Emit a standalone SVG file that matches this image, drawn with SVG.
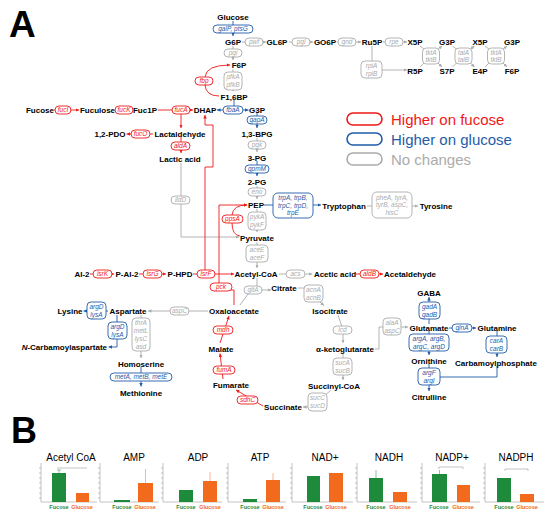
<svg xmlns="http://www.w3.org/2000/svg" width="550" height="518" viewBox="0 0 550 518">
<defs>
<style>
.m{font:bold 8px "Liberation Sans",Arial,sans-serif;text-anchor:middle;fill:#000}
.gt{font:italic 6.5px "Liberation Sans",Arial,sans-serif;text-anchor:middle}
.r rect{fill:#fff;stroke:#f01818;stroke-width:0.9}.r text{fill:#f01818}
.b rect{fill:#fff;stroke:#1f5ca8;stroke-width:0.9}.b text{fill:#1f5ca8}
.n rect{fill:#fff;stroke:#ababab;stroke-width:0.9}.n text{fill:#ababab}
.cr path{fill:none;stroke:#f01818;stroke-width:0.9}
.cb path{fill:none;stroke:#1f5ca8;stroke-width:0.9}
.cg path{fill:none;stroke:#ababab;stroke-width:0.9}
.cr .a{marker-end:url(#ar)}.cb .a{marker-end:url(#ab)}.cg .a{marker-end:url(#ag)}
.leg{font:15px "Liberation Sans",Arial,sans-serif}
.ct{font:10px "Liberation Sans",Arial,sans-serif;text-anchor:middle}
.ax{stroke:#9a9a9a;stroke-width:0.6;fill:none}
.gf{fill:#1e8a3c}.of{fill:#f26a1b}
.lf{font:bold 5.5px "Liberation Sans",Arial,sans-serif;text-anchor:middle}
</style>
<marker id="ar" viewBox="0 0 4 4" refX="4" refY="2" markerWidth="3.5" markerHeight="3.5" orient="auto" markerUnits="userSpaceOnUse"><path d="M0,0L4,2L0,4z" fill="#f01818"/></marker>
<marker id="ab" viewBox="0 0 4 4" refX="4" refY="2" markerWidth="3.5" markerHeight="3.5" orient="auto" markerUnits="userSpaceOnUse"><path d="M0,0L4,2L0,4z" fill="#1f5ca8"/></marker>
<marker id="ag" viewBox="0 0 4 4" refX="4" refY="2" markerWidth="3.5" markerHeight="3.5" orient="auto" markerUnits="userSpaceOnUse"><path d="M0,0L4,2L0,4z" fill="#ababab"/></marker>
</defs>
<rect width="550" height="518" fill="#fff"/>
<text x="9" y="37" style="font:bold 37px 'Liberation Sans',Arial,sans-serif">A</text>
<text x="11" y="443" style="font:bold 36px 'Liberation Sans',Arial,sans-serif">B</text>

<g id="connectors">
<g class="cg">
<path class="a" d="M242,42H266"/><path class="a" d="M289,42H313"/><path class="a" d="M337,42H361"/><path class="a" d="M383,42H407"/>
<path d="M372,46V61"/><path class="a" d="M382,70H407"/>
<path class="a" d="M233,46V60"/><path class="a" d="M233,69V91"/>
<path class="a" d="M257,138V152"/><path class="a" d="M257,186V199"/><path class="a" d="M257,209V232"/><path class="a" d="M257,242V268"/>
<path class="a" d="M181,163V237H239"/>
<path class="a" d="M367,206H418"/>
<path class="a" d="M279,274H312"/>
<path d="M257,278V287"/><path d="M240,305L248,294"/><path class="a" d="M262,290H271"/>
<path d="M298,288H305"/><path class="a" d="M320,302L324,305.5"/>
<path d="M338,315L342,327"/><path class="a" d="M343,334V343"/>
<path class="a" d="M343,353V380"/>
<path d="M331,390L322,398"/><path class="a" d="M309,407H303"/>
<path class="a" d="M208,311H148"/>
<path class="a" d="M141,315V358"/>
<path class="a" d="M375,349H379V327H408"/>
<path d="M420,46L425,50"/><path class="a" d="M437,50L442,46"/><path d="M420,67L425,62"/><path class="a" d="M437,62L442,67"/>
<path d="M452.5,46L457.5,50"/><path class="a" d="M469.5,50L474.5,46"/><path d="M452.5,67L457.5,62"/><path class="a" d="M469.5,62L474.5,67"/>
<path d="M485,46L490,50"/><path class="a" d="M502,50L507,46"/><path d="M485,67L490,62"/><path class="a" d="M502,62L507,67"/>
</g>
<g class="cb">
<path class="a" d="M233,21V36"/>
<path d="M234,100V106"/><path class="a" d="M223,110H217"/><path class="a" d="M243,110H248.5"/>
<path class="a" d="M257,113V128"/><path class="a" d="M257,161V176"/>
<path d="M264,205H273"/><path class="a" d="M313,205H321"/>
<path class="a" d="M108,311H83.5"/><path class="a" d="M117,315V347H108.5"/>
<path class="a" d="M141,367V386.5"/>
<path class="a" d="M429,324V297"/><path class="a" d="M449,328H476"/>
<path class="a" d="M429,331V355"/><path class="a" d="M429,364V391"/>
<path class="a" d="M497,331V357"/><path d="M497,366V377H440"/>
</g>
<g class="cr">
<path class="a" d="M54,110H79"/><path class="a" d="M116,110H132"/><path class="a" d="M158,110H193"/>
<path class="a" d="M181,114V128"/><path class="a" d="M153,134H126.5"/><path class="a" d="M181,137V153"/>
<path class="a" d="M205,270V167H213V125H205V115"/>
<path class="a" d="M90,274H114"/><path class="a" d="M139,274H166"/><path class="a" d="M193,274H234"/>
<path class="a" d="M234,305V290H219V205H247"/>
<path d="M240,236Q232,235 232,223"/><path class="a" d="M232,215Q233,205 247,205"/>
<path d="M219,96Q206,96 205,85"/><path class="a" d="M205,77Q206,65 230,65"/>
<path class="a" d="M220,343L229,316"/><path class="a" d="M223,379L220,353.5"/><path class="a" d="M263,406L236,390"/>
<path class="a" d="M356,274H383"/>
</g>
</g>

<g id="metabolites" class="m">
<g id="m-glucose"><text class="m" x="233" y="20">Glucose</text></g>
<g id="m-g6p"><text class="m" x="233" y="45">G6P</text></g>
<g id="m-gl6p"><text class="m" x="277" y="45">GL6P</text></g>
<g id="m-go6p"><text class="m" x="325" y="45">GO6P</text></g>
<g id="m-ru5p"><text class="m" x="372" y="45">Ru5P</text></g>
<g id="m-x5p1"><text class="m" x="415" y="45">X5P</text></g>
<g id="m-g3p1"><text class="m" x="447" y="45">G3P</text></g>
<g id="m-x5p2"><text class="m" x="480" y="45">X5P</text></g>
<g id="m-g3p2"><text class="m" x="512" y="45">G3P</text></g>
<g id="m-r5p"><text class="m" x="415" y="74">R5P</text></g>
<g id="m-s7p"><text class="m" x="447" y="74">S7P</text></g>
<g id="m-e4p"><text class="m" x="480" y="74">E4P</text></g>
<g id="m-f6p2"><text class="m" x="512" y="74">F6P</text></g>
<g id="m-f6p"><text class="m" x="239" y="68">F6P</text></g>
<g id="m-f16bp"><text class="m" x="234" y="100">F1,6BP</text></g>
<g id="m-dhap"><text class="m" x="205" y="113">DHAP</text></g>
<g id="m-g3p"><text class="m" x="257" y="113">G3P</text></g>
<g id="m-fucose"><text class="m" x="40" y="113">Fucose</text></g>
<g id="m-fuculose"><text class="m" x="97.5" y="113">Fuculose</text></g>
<g id="m-fuc1p"><text class="m" x="145" y="113">Fuc1P</text></g>
<g id="m-pdo"><text class="m" x="110" y="137">1,2-PDO</text></g>
<g id="m-lactald"><text class="m" x="180" y="137">Lactaldehyde</text></g>
<g id="m-lactic"><text class="m" x="180" y="162">Lactic acid</text></g>
<g id="m-13bpg"><text class="m" x="257" y="137">1,3-BPG</text></g>
<g id="m-3pg"><text class="m" x="257" y="161">3-PG</text></g>
<g id="m-2pg"><text class="m" x="257" y="185">2-PG</text></g>
<g id="m-pep"><text class="m" x="256" y="208">PEP</text></g>
<g id="m-pyr"><text class="m" x="257" y="241">Pyruvate</text></g>
<g id="m-trp"><text class="m" x="344" y="209">Tryptophan</text></g>
<g id="m-tyr"><text class="m" x="436" y="209">Tyrosine</text></g>
<g id="m-ai2"><text class="m" x="82" y="277">AI-2</text></g>
<g id="m-pai2"><text class="m" x="127" y="277">P-AI-2</text></g>
<g id="m-phpd"><text class="m" x="180" y="277">P-HPD</text></g>
<g id="m-accoa"><text class="m" x="256" y="277">Acetyl-CoA</text></g>
<g id="m-acetic"><text class="m" x="335" y="277">Acetic acid</text></g>
<g id="m-acetald"><text class="m" x="410" y="277">Acetaldehyde</text></g>
<g id="m-citrate"><text class="m" x="284" y="291">Citrate</text></g>
<g id="m-oaa"><text class="m" x="234" y="314">Oxaloacetate</text></g>
<g id="m-isocit"><text class="m" x="330" y="314">Isocitrate</text></g>
<g id="m-lysine"><text class="m" x="70" y="314">Lysine</text></g>
<g id="m-asp"><text class="m" x="128" y="314">Aspartate</text></g>
<g id="m-ncarb"><text class="m" x="107" y="350" style="text-anchor:end"><tspan font-style="italic">N</tspan>-Carbamoylaspartate</text></g>
<g id="m-homoser"><text class="m" x="141" y="367">Homoserine</text></g>
<g id="m-met"><text class="m" x="141" y="396">Methionine</text></g>
<g id="m-malate"><text class="m" x="221" y="352">Malate</text></g>
<g id="m-fumarate"><text class="m" x="231" y="388">Fumarate</text></g>
<g id="m-succinate"><text class="m" x="283" y="410">Succinate</text></g>
<g id="m-succoa"><text class="m" x="334" y="389">Succinyl-CoA</text></g>
<g id="m-akg"><text class="m" x="345" y="352">α-ketoglutarate</text></g>
<g id="m-gaba"><text class="m" x="429" y="296">GABA</text></g>
<g id="m-glu"><text class="m" x="429" y="331">Glutamate</text></g>
<g id="m-gln"><text class="m" x="497" y="331">Glutamine</text></g>
<g id="m-orn"><text class="m" x="429" y="364">Ornithine</text></g>
<g id="m-carbp"><text class="m" x="496" y="366">Carbamoylphosphate</text></g>
<g id="m-cit"><text class="m" x="429" y="400">Citrulline</text></g>
</g>

<g id="genes">
<g id="e-galp" class="b"><rect x="213" y="25" width="40" height="8" rx="4"/><text class="gt" x="233" y="31.3">galP, ptsG</text></g>
<g id="e-pwf" class="n"><rect x="245" y="38" width="18" height="8" rx="4"/><text class="gt" x="254" y="44.3">pwf</text></g>
<g id="e-pgl" class="n"><rect x="292" y="38" width="18" height="8" rx="4"/><text class="gt" x="301" y="44.3">pgl</text></g>
<g id="e-gnd" class="n"><rect x="338" y="38" width="18" height="8" rx="4"/><text class="gt" x="347" y="44.3">gnd</text></g>
<g id="e-rpe" class="n"><rect x="385" y="38" width="18" height="8" rx="4"/><text class="gt" x="394" y="44.3">rpe</text></g>
<g id="e-pgi" class="n"><rect x="224" y="49" width="18" height="8" rx="4"/><text class="gt" x="233" y="55.3">pgi</text></g>
<g id="e-pfk" class="n"><rect x="224" y="72" width="18" height="18" rx="4"/><text class="gt" x="233" y="79">pfkA</text><text class="gt" x="233" y="87">pfkB</text></g>
<g id="e-fbp" class="r"><rect x="195" y="77" width="18" height="8" rx="4"/><text class="gt" x="204" y="83.3">fbp</text></g>
<g id="e-fbaa" class="b"><rect x="223" y="106" width="20" height="8" rx="4"/><text class="gt" x="233" y="112.3">fbaA</text></g>
<g id="e-gapa" class="b"><rect x="247" y="116" width="20" height="8" rx="4"/><text class="gt" x="257" y="122.3">gapA</text></g>
<g id="e-pgk" class="n"><rect x="248" y="141" width="18" height="8" rx="4"/><text class="gt" x="257" y="147.3">pgk</text></g>
<g id="e-gpmm" class="b"><rect x="245" y="165" width="24" height="8" rx="4"/><text class="gt" x="257" y="171.3">gpmM</text></g>
<g id="e-eno" class="n"><rect x="248" y="188" width="18" height="8" rx="4"/><text class="gt" x="257" y="194.3">eno</text></g>
<g id="e-pyk" class="n"><rect x="248" y="212" width="18" height="18" rx="4"/><text class="gt" x="257" y="219">pykA</text><text class="gt" x="257" y="227">pykF</text></g>
<g id="e-ace" class="n"><rect x="246" y="245" width="22" height="17" rx="4"/><text class="gt" x="257" y="251.8">aceE</text><text class="gt" x="257" y="259.6">aceF</text></g>
<g id="e-trp" class="b"><rect x="273" y="193" width="40" height="25" rx="5"/><text class="gt" x="293" y="200.3">trpA, trpB,</text><text class="gt" x="293" y="207.8">trpC, trpD,</text><text class="gt" x="293" y="215.3">trpE</text></g>
<g id="e-phea" class="n"><rect x="372" y="192" width="40" height="26" rx="5"/><text class="gt" x="392" y="199.5">pheA, tyrA,</text><text class="gt" x="392" y="207.3">tyrB, aspC,</text><text class="gt" x="392" y="215">hisC</text></g>
<g id="e-rpi" class="n"><rect x="361" y="61" width="21" height="17" rx="4"/><text class="gt" x="371.5" y="67.8">rpiA</text><text class="gt" x="371.5" y="75.6">rpiB</text></g>
<g id="e-tkt1" class="n"><rect x="422.5" y="48" width="17" height="16" rx="4"/><text class="gt" x="431" y="54.5">tktA</text><text class="gt" x="431" y="62">tktB</text></g>
<g id="e-tal" class="n"><rect x="455" y="48" width="17" height="16" rx="4"/><text class="gt" x="463.5" y="54.5">talA</text><text class="gt" x="463.5" y="62">talB</text></g>
<g id="e-tkt2" class="n"><rect x="487.5" y="48" width="17" height="16" rx="4"/><text class="gt" x="496" y="54.5">tktA</text><text class="gt" x="496" y="62">tktB</text></g>
<g id="e-fuci" class="r"><rect x="55" y="106" width="16" height="8" rx="4"/><text class="gt" x="63" y="112.3">fucI</text></g>
<g id="e-fuck" class="r"><rect x="115" y="106" width="18" height="8" rx="4"/><text class="gt" x="124" y="112.3">fucK</text></g>
<g id="e-fuca" class="r"><rect x="172" y="106" width="18" height="8" rx="4"/><text class="gt" x="181" y="112.3">fucA</text></g>
<g id="e-fuco" class="r"><rect x="131" y="130" width="19" height="8" rx="4"/><text class="gt" x="140.5" y="136.3">fucO</text></g>
<g id="e-alda" class="r"><rect x="171" y="142" width="19" height="8" rx="4"/><text class="gt" x="180.5" y="148.3">aldA</text></g>
<g id="e-lldd" class="n"><rect x="171" y="196" width="19" height="8" rx="4"/><text class="gt" x="180.5" y="202.3">lldD</text></g>
<g id="e-ppsa" class="r"><rect x="222" y="215" width="21" height="8" rx="4"/><text class="gt" x="232.5" y="221.3">ppsA</text></g>
<g id="e-lsrk" class="r"><rect x="93" y="270" width="19" height="8" rx="4"/><text class="gt" x="102.5" y="276.3">lsrK</text></g>
<g id="e-lsrg" class="r"><rect x="143" y="270" width="19" height="8" rx="4"/><text class="gt" x="152.5" y="276.3">lsrG</text></g>
<g id="e-lsrf" class="r"><rect x="197" y="270" width="18" height="8" rx="4"/><text class="gt" x="206" y="276.3">lsrF</text></g>
<g id="e-acs" class="n"><rect x="286" y="270" width="19" height="8" rx="4"/><text class="gt" x="295.5" y="276.3">acs</text></g>
<g id="e-aldb" class="r"><rect x="360" y="270" width="19" height="8" rx="4"/><text class="gt" x="369.5" y="276.3">aldB</text></g>
<g id="e-pck" class="r"><rect x="210" y="283" width="22" height="8" rx="4"/><text class="gt" x="221" y="289.3">pck</text></g>
<g id="e-glta" class="n"><rect x="244" y="286" width="18" height="8" rx="4"/><text class="gt" x="253" y="292.3">gltA</text></g>
<g id="e-acn" class="n"><rect x="304" y="285" width="19" height="17" rx="4"/><text class="gt" x="313.5" y="291.8">acnA</text><text class="gt" x="313.5" y="299.6">acnB</text></g>
<g id="e-aspc" class="n"><rect x="170" y="307" width="19" height="8" rx="4"/><text class="gt" x="179.5" y="313.3">aspC</text></g>
<g id="e-argd1" class="b"><rect x="87" y="302" width="19" height="17" rx="4"/><text class="gt" x="96.5" y="308.8">argD</text><text class="gt" x="96.5" y="316.6">lysA</text></g>
<g id="e-argd2" class="b"><rect x="108" y="322" width="19" height="17" rx="4"/><text class="gt" x="117.5" y="328.8">argD</text><text class="gt" x="117.5" y="336.6">lysA</text></g>
<g id="e-thra" class="n"><rect x="132" y="318" width="18" height="33" rx="4"/><text class="gt" x="141" y="324.8">thrA</text><text class="gt" x="141" y="332.8">metL</text><text class="gt" x="141" y="340.8">lysC</text><text class="gt" x="141" y="348.8">asd</text></g>
<g id="e-meta" class="b"><rect x="110" y="373" width="62" height="8" rx="4"/><text class="gt" x="141" y="379.3">metA, metB, metE</text></g>
<g id="e-mdh" class="r"><rect x="213" y="326" width="20" height="8" rx="4"/><text class="gt" x="223" y="332.3">mdh</text></g>
<g id="e-fuma" class="r"><rect x="213" y="366" width="22" height="8" rx="4"/><text class="gt" x="224" y="372.3">fumA</text></g>
<g id="e-sdhc" class="r"><rect x="237" y="396" width="21" height="8" rx="4"/><text class="gt" x="247.5" y="402.3">sdhC</text></g>
<g id="e-icd" class="n"><rect x="333" y="326" width="19" height="8" rx="4"/><text class="gt" x="342.5" y="332.3">icd</text></g>
<g id="e-suca" class="n"><rect x="333" y="358" width="19" height="17" rx="4"/><text class="gt" x="342.5" y="364.8">sucA</text><text class="gt" x="342.5" y="372.6">sucB</text></g>
<g id="e-succ" class="n"><rect x="308" y="393" width="19" height="18" rx="4"/><text class="gt" x="317.5" y="400">sucC</text><text class="gt" x="317.5" y="408">sucD</text></g>
<g id="e-alaa" class="n"><rect x="383" y="318" width="18" height="17" rx="4"/><text class="gt" x="392" y="324.8">alaA</text><text class="gt" x="392" y="332.6">aspC</text></g>
<g id="e-gad" class="b"><rect x="419" y="302" width="21" height="17" rx="4"/><text class="gt" x="429.5" y="308.8">gadA</text><text class="gt" x="429.5" y="316.6">gadB</text></g>
<g id="e-glna" class="b"><rect x="452" y="324" width="20" height="8" rx="4"/><text class="gt" x="462" y="330.3">glnA</text></g>
<g id="e-arga" class="b"><rect x="409" y="334" width="40" height="17" rx="4"/><text class="gt" x="429" y="340.8">argA, argB,</text><text class="gt" x="429" y="348.6">argC, argD</text></g>
<g id="e-car" class="b"><rect x="486" y="336" width="21" height="17" rx="4"/><text class="gt" x="496.5" y="342.8">carA</text><text class="gt" x="496.5" y="350.6">carB</text></g>
<g id="e-argf" class="b"><rect x="418" y="368" width="22" height="17" rx="4"/><text class="gt" x="429" y="374.8">argF</text><text class="gt" x="429" y="382.6">argI</text></g>
</g>

<g id="legend">
<rect x="347" y="113" width="35" height="12" rx="6" fill="none" stroke="#f01818" stroke-width="1.6"/>
<text class="leg" x="391" y="124.5" fill="#f01818">Higher on fucose</text>
<rect x="347" y="133" width="35" height="12" rx="6" fill="none" stroke="#1f5ca8" stroke-width="1.6"/>
<text class="leg" x="391" y="144.5" fill="#1f5ca8">Higher on glucose</text>
<rect x="347" y="153" width="35" height="12" rx="6" fill="none" stroke="#ababab" stroke-width="1.6"/>
<text class="leg" x="391" y="164.5" fill="#ababab">No changes</text>
</g>

<g id="charts">
<g id="c-accoa"><text class="ct" x="71" y="461">Acetyl CoA</text><path class="ax" d="M41,463V502H97M41,468h-2M41,473h-2M41,478h-2M41,483h-2M41,488h-2M41,493h-2M41,498h-2"/><rect class="gf" x="52" y="473" width="14" height="29"/><rect class="of" x="76" y="493" width="13" height="9"/><path d="M59,473V470M57,470h4" stroke="#1e8a3c" stroke-width="0.5"/><path class="ax" d="M57,468H87"/><text class="lf" x="59" y="509" fill="#1e8a3c">Fucose</text><text class="lf" x="82" y="509" fill="#f26a1b">Glucose</text></g>
<g id="c-amp"><text class="ct" x="134" y="461">AMP</text><path class="ax" d="M100,463V502H159M100,468h-2M100,473h-2M100,478h-2M100,483h-2M100,488h-2M100,493h-2M100,498h-2"/><rect class="gf" x="114" y="500" width="16" height="2"/><rect class="of" x="138" y="483" width="15" height="19"/><path d="M145.5,483V469" stroke="#f26a1b" stroke-width="0.5"/><text class="lf" x="122" y="509" fill="#1e8a3c">Fucose</text><text class="lf" x="145" y="509" fill="#f26a1b">Glucose</text></g>
<g id="c-adp"><text class="ct" x="198" y="461">ADP</text><path class="ax" d="M163,463V502H222M163,468h-2M163,473h-2M163,478h-2M163,483h-2M163,488h-2M163,493h-2M163,498h-2"/><rect class="gf" x="179" y="490" width="14" height="12"/><rect class="of" x="203" y="481" width="14" height="21"/><path d="M210,481V472" stroke="#f26a1b" stroke-width="0.5"/><text class="lf" x="186" y="509" fill="#1e8a3c">Fucose</text><text class="lf" x="210" y="509" fill="#f26a1b">Glucose</text></g>
<g id="c-atp"><text class="ct" x="260" y="461">ATP</text><path class="ax" d="M228,463V502H286M228,468h-2M228,473h-2M228,478h-2M228,483h-2M228,488h-2M228,493h-2M228,498h-2"/><rect class="gf" x="243" y="499" width="14" height="3"/><rect class="of" x="266" y="480" width="14" height="22"/><path d="M273,480V473" stroke="#f26a1b" stroke-width="0.5"/><text class="lf" x="250" y="509" fill="#1e8a3c">Fucose</text><text class="lf" x="273" y="509" fill="#f26a1b">Glucose</text></g>
<g id="c-nad"><text class="ct" x="325" y="461">NAD+</text><path class="ax" d="M292,463V502H353M292,468h-2M292,473h-2M292,478h-2M292,483h-2M292,488h-2M292,493h-2M292,498h-2"/><rect class="gf" x="307" y="476" width="13" height="26"/><rect class="of" x="329" y="473" width="14" height="29"/><text class="lf" x="313" y="509" fill="#1e8a3c">Fucose</text><text class="lf" x="336" y="509" fill="#f26a1b">Glucose</text></g>
<g id="c-nadh"><text class="ct" x="389" y="461">NADH</text><path class="ax" d="M357,463V502H417M357,468h-2M357,473h-2M357,478h-2M357,483h-2M357,488h-2M357,493h-2M357,498h-2"/><rect class="gf" x="369" y="478" width="14" height="24"/><rect class="of" x="393" y="492" width="14" height="10"/><path d="M376,478V470" stroke="#1e8a3c" stroke-width="0.5"/><text class="lf" x="376" y="509" fill="#1e8a3c">Fucose</text><text class="lf" x="400" y="509" fill="#f26a1b">Glucose</text></g>
<g id="c-nadp"><text class="ct" x="452" y="461">NADP+</text><path class="ax" d="M422,463V502H480M422,468h-2M422,473h-2M422,478h-2M422,483h-2M422,488h-2M422,493h-2M422,498h-2"/><rect class="gf" x="432" y="474" width="15" height="28"/><rect class="of" x="457" y="485" width="13" height="17"/><path d="M439.5,474V470" stroke="#1e8a3c" stroke-width="0.5"/><path class="ax" d="M439,467H463M439,467v2M463,467v2"/><text class="lf" x="439" y="509" fill="#1e8a3c">Fucose</text><text class="lf" x="463" y="509" fill="#f26a1b">Glucose</text></g>
<g id="c-nadph"><text class="ct" x="516" y="461">NADPH</text><path class="ax" d="M485,463V502H544M485,468h-2M485,473h-2M485,478h-2M485,483h-2M485,488h-2M485,493h-2M485,498h-2"/><rect class="gf" x="497" y="478" width="14" height="24"/><rect class="of" x="520" y="494" width="14" height="8"/><path class="ax" d="M505,469H528M505,469v2M528,469v2"/><text class="lf" x="504" y="509" fill="#1e8a3c">Fucose</text><text class="lf" x="527" y="509" fill="#f26a1b">Glucose</text></g>
</g>
</svg>
